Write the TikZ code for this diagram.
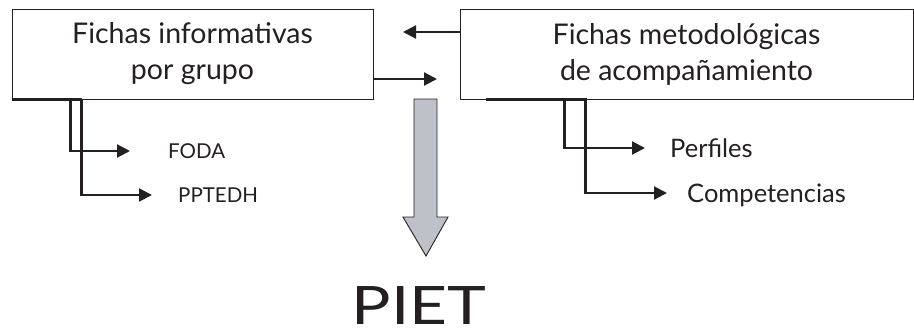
\documentclass[tikz,border=0pt]{standalone}
\usepackage{fontspec}
\setmainfont{Lato}
\newfontfamily\widelato[FakeStretch=1.24]{Lato}
\usetikzlibrary{arrows.meta,positioning,calc}
\definecolor{inkgray}{rgb}{0.14,0.12,0.13}
\definecolor{arrowgray}{RGB}{190,193,200}

\tikzset{
  fichabox/.style={draw, line width=1pt, align=center, inner sep=0pt,
    font=\fontsize{28.5}{36}\selectfont},
  sublabel/.style={anchor=west, inner sep=0pt, text depth=0pt,
    font=\fontsize{25.5}{30}\selectfont},
  branch/.style={line width=2.2pt, -{Triangle[length=13pt,width=13pt]}},
}

\begin{document}
\begin{tikzpicture}[x=1pt,y=-1pt,color=inkgray]
  \useasboundingbox (0,0) rectangle (914,333);

  % the two boxes
  \node[fichabox, minimum width=361pt, minimum height=90pt] (info) at (192.5,54)
    {Fichas informativas\\por grupo};
  \node[fichabox, minimum width=453pt, minimum height=90pt] (metod) at (686.5,54)
    {Fichas metodológicas\\de acompañamiento};

  % heavier strips on the bottom edges
  \draw[line width=2.2pt] (info.south west) -- ++(70,0);
  \draw[line width=2.2pt] ([xshift=26pt]metod.south west) -- ++(101,0);

  % items below each box
  \node[sublabel, font=\fontsize{20.5}{25}\selectfont] (foda) at (168,151) {FODA};
  \node[sublabel, font=\fontsize{20.5}{25}\selectfont] (pptedh) at (178,195) {PPTEDH};
  \node[sublabel] (perfiles) at (670,148) {Perfiles};
  \node[sublabel] (compet) at (687,193) {Competencias};

  \coordinate (info-a) at ([xshift=59pt]info.south west);
  \coordinate (info-b) at ([xshift=70pt]info.south west);
  \coordinate (metod-a) at ([xshift=105pt]metod.south west);
  \coordinate (metod-b) at ([xshift=126pt]metod.south west);

  \draw[branch] (info-a) |- ([xshift=-38pt]foda.west);
  \draw[branch] (info-b) |- ([xshift=-26pt]pptedh.west);
  \draw[branch] (metod-a) |- ([xshift=-25pt]perfiles.west);
  \draw[branch] (metod-b) |- ([xshift=-20pt]compet.west);

  % arrows between the boxes
  \coordinate (back) at (403,32);
  \coordinate (fwd) at (437,79);
  \draw[branch] ([yshift=22pt]metod.west) -- (back);
  \draw[branch] ([yshift=-25pt]info.east) -- (fwd);

  % big arrow down to the result
  \draw[fill=arrowgray, line width=0.9pt] (414,99) -- (437,99) -- (437,217)
    -- (448,217) -- (426,256) -- (403,217) -- (414,217) -- cycle;
  \node[font=\widelato\fontsize{53}{58}\selectfont, inner sep=0pt] (piet) at (419,306) {PIET};
\end{tikzpicture}
\end{document}
